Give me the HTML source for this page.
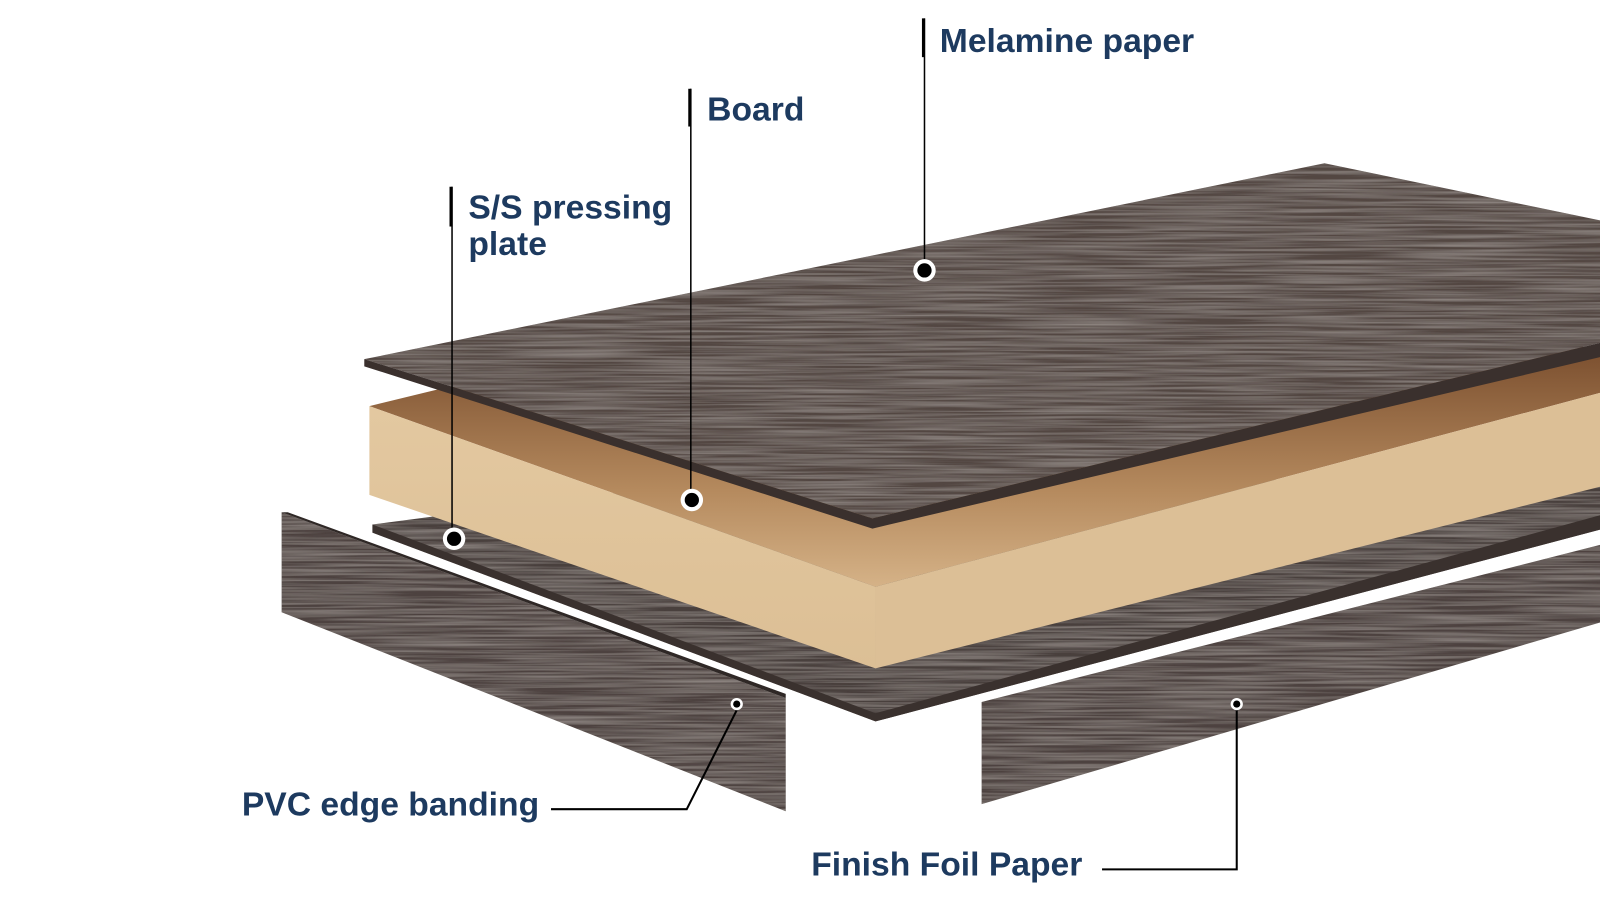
<!DOCTYPE html>
<html><head><meta charset="utf-8"><style>
html,body{margin:0;padding:0;background:#fff;}
svg{display:block}
text{font-family:"Liberation Sans",Arial,sans-serif;font-weight:bold;font-size:33px;fill:#1d3a5f;}
</style></head><body>
<svg width="1600" height="900" viewBox="0 0 1568 882" preserveAspectRatio="none" xmlns="http://www.w3.org/2000/svg">
<defs>
<filter id="wood" x="0" y="0" width="100%" height="100%">
<feTurbulence type="fractalNoise" baseFrequency="0.008 0.45" numOctaves="2" seed="3" result="n"/>
<feColorMatrix in="n" type="matrix" values="0 0 0 0 0.36  0 0 0 0 0.32  0 0 0 0 0.30  0 0 0 1.1 -0.35" result="c"/>
<feComposite in="c" in2="SourceGraphic" operator="in" result="t"/>
<feMerge><feMergeNode in="SourceGraphic"/><feMergeNode in="t"/></feMerge>
</filter>
<linearGradient id="boardTop" x1="0" y1="0" x2="0" y2="1">
<stop offset="0" stop-color="#7a4e2e"/><stop offset="0.6" stop-color="#b58a5e"/><stop offset="1" stop-color="#d5b287"/>
</linearGradient>
<linearGradient id="boardFront" x1="0" y1="0" x2="0" y2="1">
<stop offset="0" stop-color="#e3c8a0"/><stop offset="1" stop-color="#dcbf95"/>
</linearGradient>
</defs>

<polygon points="365,514 700,470 1568,470 1568,519 858,707 365,522" fill="#4a403c" filter="url(#wood)"/>
<polygon points="365,522 858,707 1568,519 1568,505 858,699 365,514" fill="#3a312e"/>

<polygon points="362,398 600,340 1568,340 1568,385 858,575" fill="url(#boardTop)"/>
<polygon points="362,398 858,575 858,655 362,485" fill="url(#boardFront)"/>
<polygon points="858,575 1568,385 1568,477 858,655" fill="#dcbf96"/>

<polygon points="357,352 1298,160 1568,216 1568,336 855,508" fill="#524743" filter="url(#wood)"/>
<polygon points="357,352 855,508 1568,336 1568,350 855,518 357,359" fill="#3a302d"/>

<polygon points="276,502 770,684 770,795 276,600" fill="#4d433f" filter="url(#wood)"/>
<polygon points="276,502 282,502 770,680 770,684" fill="#2f2826"/>
<polygon points="962,688 1568,534 1568,610 962,788" fill="#4d433f" filter="url(#wood)"/>

<g stroke="#000" fill="none">
<line x1="906" y1="18" x2="906" y2="258" stroke-width="1.5"/>
<line x1="905" y1="18" x2="905" y2="56" stroke-width="3"/>
<line x1="677" y1="87" x2="677" y2="482" stroke-width="1.5"/>
<line x1="676" y1="87" x2="676" y2="124" stroke-width="3"/>
<line x1="443" y1="183" x2="443" y2="520" stroke-width="1.5"/>
<line x1="442" y1="183" x2="442" y2="222" stroke-width="3"/>
<polyline points="722,696 673,793 540,793" stroke-width="2"/>
<polyline points="1212,696 1212,852 1080,852" stroke-width="2"/>
</g>
<g>
<circle cx="906" cy="265" r="11" fill="#fff"/><circle cx="906" cy="265" r="7" fill="#000"/>
<circle cx="678" cy="490" r="11" fill="#fff"/><circle cx="678" cy="490" r="7" fill="#000"/>
<circle cx="445" cy="528" r="11" fill="#fff"/><circle cx="445" cy="528" r="7" fill="#000"/>
<circle cx="722" cy="690" r="6" fill="#fff"/><circle cx="722" cy="690" r="3.5" fill="#000"/>
<circle cx="1212" cy="690" r="6" fill="#fff"/><circle cx="1212" cy="690" r="3.5" fill="#000"/>
</g>

<text x="921" y="51">Melamine paper</text>
<text x="693" y="118">Board</text>
<text x="459" y="214">S/S pressing</text>
<text x="459" y="250">plate</text>
<text x="237" y="799">PVC edge banding</text>
<text x="795" y="858">Finish Foil Paper</text>
</svg>
</body></html>
